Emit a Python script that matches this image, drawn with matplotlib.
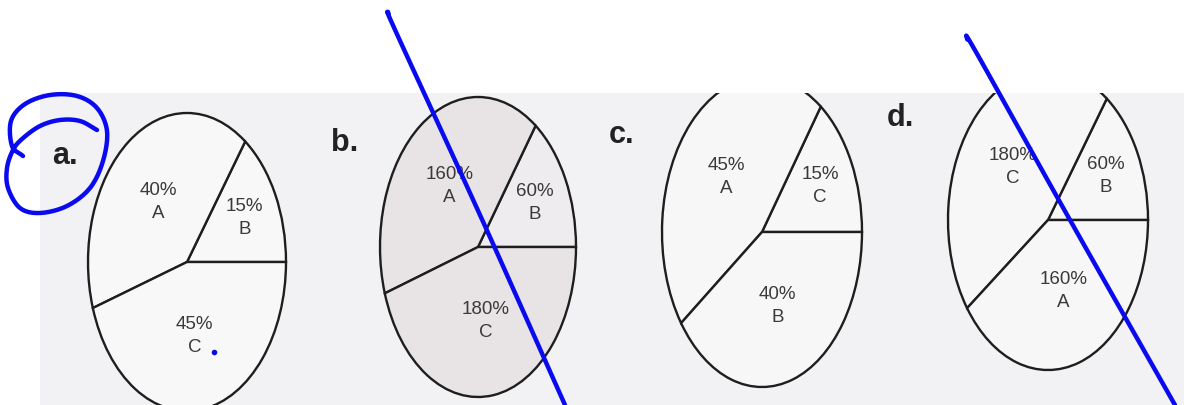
import matplotlib.pyplot as plt
import matplotlib.patches as mpatches
from matplotlib.transforms import Bbox, TransformedBbox
import numpy as np

plt.rcParams['font.family'] = ['Liberation Sans', 'DejaVu Sans']

W, H = 1184, 405

# pie data, wedges listed counter-clockwise from 3 o'clock
panels = ['a.', 'b.', 'c.', 'd.']
a_names = ['B', 'A', 'C']
a_values = [15, 40, 45]
b_names = ['B', 'A', 'C']
b_values = [60, 160, 180]
c_names = ['C', 'A', 'B']
c_values = [15, 45, 40]
d_names = ['B', 'C', 'A']
d_values = [60, 180, 160]

# pixel layout of each ellipse: centre x, centre y, x radius, y radius
layout = [(187, 262, 99, 149), (478, 247, 98, 150), (762, 232, 100, 155), (1048, 220, 100, 150)]
letter_pos = [(65, 156), (345, 143), (622, 135), (900, 118)]
fills = [['#f8f8f8'] * 3, ['#eeecee', '#e8e4e5', '#e8e4e5'], ['#f7f7f7'] * 3, ['#f7f7f7'] * 3]
PEN = '#0a0af0'

fig = plt.figure(figsize=(W / 100, H / 100), dpi=100)
bg = fig.add_axes([0, 0, 1, 1])
bg.set_xlim(0, W)
bg.set_ylim(H, 0)
bg.axis('off')

bg.add_patch(mpatches.Rectangle((40, 93), W - 40, 312, facecolor='#f2f1f3', edgecolor='none'))
scan_box = TransformedBbox(Bbox.from_extents(40, 93, W, H), bg.transData)


def draw_pie(names, values, box, colors):
    cx, cy, rx, ry = box
    pad = 1.04
    ax = fig.add_axes([(cx - rx * pad) / W, 1 - (cy + ry * pad) / H, 2 * rx * pad / W, 2 * ry * pad / H])
    wedges, _ = ax.pie(values, startangle=0, counterclock=True, colors=colors,
                       wedgeprops=dict(edgecolor='#1e1e1e', linewidth=1.7))
    ax.set_aspect('auto')
    ax.set_xlim(-pad, pad)
    ax.set_ylim(-pad, pad)
    ax.axis('off')
    total = sum(values)
    for w, name, v in zip(wedges, names, values):
        w.set_clip_on(True)
        w.set_clip_box(scan_box)
        mid = np.deg2rad((w.theta1 + w.theta2) / 2)
        r = 0.65 if v / total < 0.2 else 0.5
        ax.text(r * np.cos(mid), r * np.sin(mid), f'{v}%\n{name}',
                ha='center', va='center', fontsize=13.5, color='#3a3a3a', linespacing=1.45)


draw_pie(a_names, a_values, layout[0], fills[0])
draw_pie(b_names, b_values, layout[1], fills[1])
draw_pie(c_names, c_values, layout[2], fills[2])
draw_pie(d_names, d_values, layout[3], fills[3])

for lab, (x, y) in zip(panels, letter_pos):
    bg.text(x, y, lab, ha='center', va='center', fontsize=22, fontweight='bold', color='#222222')

# blue pen marks drawn over everything
top = fig.add_axes([0, 0, 1, 1])
top.set_xlim(0, W)
top.set_ylim(H, 0)
top.axis('off')


def smooth(pts, n=12):
    # Catmull-Rom through the traced points
    p = np.vstack([2 * pts[0] - pts[1], pts, 2 * pts[-1] - pts[-2]])
    out = []
    s = np.linspace(0, 1, n, endpoint=False)[:, None]
    for i in range(1, len(p) - 2):
        p0, p1, p2, p3 = p[i - 1], p[i], p[i + 1], p[i + 2]
        out.append(0.5 * (2 * p1 + (-p0 + p2) * s + (2 * p0 - 5 * p1 + 4 * p2 - p3) * s ** 2
                          + (-p0 + 3 * p1 - 3 * p2 + p3) * s ** 3))
    out.append(p[-2][None, :])
    return np.vstack(out)


loop = np.array([(23, 156), (12, 146), (11, 121), (25, 104), (50, 95), (77, 96), (97, 108),
                 (107, 131), (103, 161), (90, 188), (67, 206), (40, 213), (20, 208), (8, 188),
                 (7, 168), (13, 150), (22, 139), (40, 126), (60, 120), (80, 121), (97, 130)], float)
curve = smooth(loop)
top.plot(curve[:, 0], curve[:, 1], color=PEN, lw=3.2, solid_capstyle='round', solid_joinstyle='round')
line_b = smooth(np.array([(388, 12), (396, 32), (480, 215), (565, 405)], float))
top.plot(line_b[:, 0], line_b[:, 1], color=PEN, lw=3.2, solid_capstyle='round')
line_d = smooth(np.array([(967, 39), (976, 52), (1070, 220), (1175, 405)], float))
top.plot(line_d[:, 0], line_d[:, 1], color=PEN, lw=3.2, solid_capstyle='round')
top.plot([214], [352], 'o', color=PEN, ms=3)

fig.savefig('out.png', dpi=100)
